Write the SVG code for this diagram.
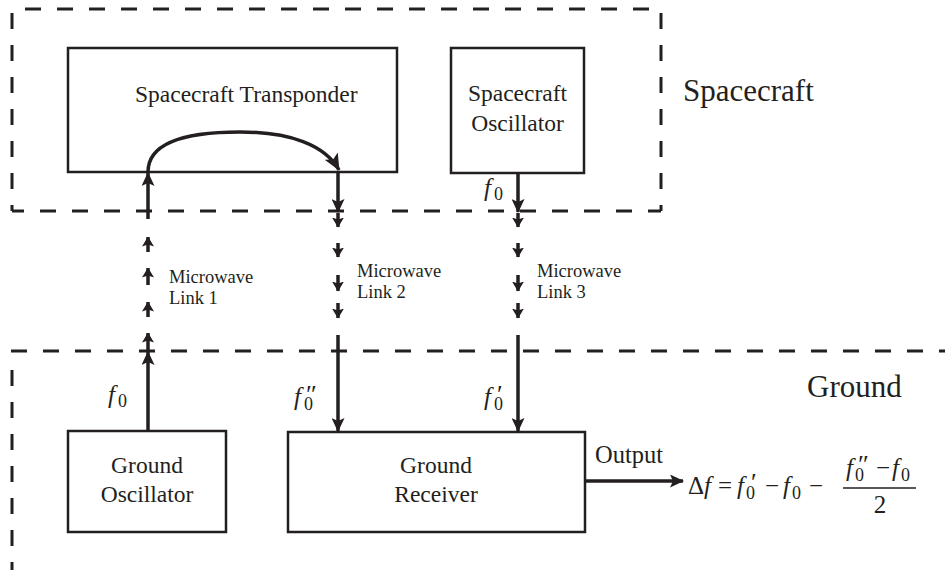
<svg xmlns="http://www.w3.org/2000/svg" width="945" height="570" viewBox="0 0 945 570">
<style>
.box{fill:none;stroke:#231f20;stroke-width:2.5}
.dash{fill:none;stroke:#231f20;stroke-width:3;stroke-dasharray:16 16}
.arr{fill:none;stroke:#231f20;stroke-width:3.5}
.lbl{font-family:'Liberation Serif','Times New Roman',serif;fill:#231f20;text-anchor:middle;font-size:23.5px}
.mw{font-family:'Liberation Serif','Times New Roman',serif;fill:#231f20;font-size:18.5px}
.big{font-family:'Liberation Serif','Times New Roman',serif;fill:#231f20;font-size:31px}
.m{font-family:'Liberation Serif','Times New Roman',serif;fill:#231f20;font-size:25px}
.mi{font-family:'Liberation Serif','Times New Roman',serif;fill:#231f20;font-size:25px;font-style:italic}
.sub{font-family:'Liberation Serif','Times New Roman',serif;fill:#231f20;font-size:18px}
.pr{font-family:'Liberation Serif','Times New Roman',serif;fill:#231f20;font-size:26px}
</style>
<defs>
<marker id="bh" viewBox="0 0 14 13" refX="13" refY="6.5" markerWidth="14" markerHeight="13" markerUnits="userSpaceOnUse" orient="auto">
<path d="M0,0 L14,6.5 L0,13 L3,6.5 z" fill="#231f20"/>
</marker>
<marker id="sh" viewBox="0 0 10 12" refX="9.5" refY="6" markerWidth="10" markerHeight="12" markerUnits="userSpaceOnUse" orient="auto">
<path d="M0,0 L10,6 L0,12 L2,6 z" fill="#231f20"/>
</marker>
<marker id="ch" viewBox="0 0 17 15" refX="16" refY="7.5" markerWidth="17" markerHeight="15" markerUnits="userSpaceOnUse" orient="auto">
<path d="M0,0 L17,7.5 L0,15 L4,7.5 z" fill="#231f20"/>
</marker>
</defs>

<g id="regions">
<line class="dash" x1="25" y1="9" x2="661" y2="9"/>
<line class="dash" x1="12" y1="13" x2="12" y2="211"/>
<line class="dash" x1="661" y1="13" x2="661" y2="211"/>
<line class="dash" x1="12" y1="211" x2="661" y2="211" style="stroke-dashoffset:4"/>
<line class="dash" x1="11" y1="351" x2="945" y2="351"/>
<line class="dash" x1="12" y1="370" x2="12" y2="570"/>
<text class="big" x="683" y="101">Spacecraft</text>
<text class="big" x="807" y="397">Ground</text>
</g>

<g id="transponder">
<rect class="box" x="68" y="48" width="329" height="124"/>
<text class="lbl" x="135" y="102" style="text-anchor:start">Spacecraft Transponder</text>
</g>
<g id="sc-oscillator">
<rect class="box" x="451" y="48" width="133" height="125"/>
<text class="lbl" x="517.5" y="101">Spacecraft</text>
<text class="lbl" x="517.5" y="131">Oscillator</text>
</g>
<g id="ground-oscillator">
<rect class="box" x="68" y="431" width="158" height="101"/>
<text class="lbl" x="147" y="473">Ground</text>
<text class="lbl" x="147" y="502">Oscillator</text>
</g>
<g id="ground-receiver">
<rect class="box" x="288" y="432" width="297" height="100"/>
<text class="lbl" x="436" y="473">Ground</text>
<text class="lbl" x="436" y="502">Receiver</text>
</g>

<g id="connectors">
<!-- link 1 (up) -->
<line class="arr" x1="148" y1="431" x2="148" y2="352" marker-end="url(#bh)"/>
<line class="arr" x1="148" y1="350" x2="148" y2="333" marker-end="url(#sh)"/>
<line class="arr" x1="148" y1="317" x2="148" y2="302" marker-end="url(#sh)"/>
<line class="arr" x1="148" y1="285" x2="148" y2="268" marker-end="url(#sh)"/>
<line class="arr" x1="148" y1="252" x2="148" y2="237" marker-end="url(#sh)"/>
<line class="arr" x1="148" y1="219" x2="148" y2="173" marker-end="url(#bh)"/>
<!-- transponder loop -->
<path class="arr" d="M148,172 C148,145 180,132 240,132 C290,132 325,145 339,170" marker-end="url(#ch)"/>
<!-- link 2 (down) -->
<line class="arr" x1="338" y1="172" x2="338" y2="212" marker-end="url(#bh)"/>
<line class="arr" x1="338" y1="213" x2="338" y2="227" marker-end="url(#sh)"/>
<line class="arr" x1="338" y1="243" x2="338" y2="257" marker-end="url(#sh)"/>
<line class="arr" x1="338" y1="275" x2="338" y2="291" marker-end="url(#sh)"/>
<line class="arr" x1="338" y1="303" x2="338" y2="318" marker-end="url(#sh)"/>
<line class="arr" x1="338" y1="335" x2="338" y2="431" marker-end="url(#bh)"/>
<!-- link 3 (down) -->
<line class="arr" x1="518" y1="173" x2="518" y2="212" marker-end="url(#bh)"/>
<line class="arr" x1="518" y1="213" x2="518" y2="227" marker-end="url(#sh)"/>
<line class="arr" x1="518" y1="243" x2="518" y2="257" marker-end="url(#sh)"/>
<line class="arr" x1="518" y1="275" x2="518" y2="291" marker-end="url(#sh)"/>
<line class="arr" x1="518" y1="303" x2="518" y2="318" marker-end="url(#sh)"/>
<line class="arr" x1="518" y1="335" x2="518" y2="431" marker-end="url(#bh)"/>
<!-- output -->
<line class="arr" x1="585" y1="481" x2="683" y2="481" marker-end="url(#bh)"/>
</g>

<g id="labels">
<text class="mw" x="169" y="283">Microwave</text>
<text class="mw" x="169" y="304">Link 1</text>
<text class="mw" x="357" y="277">Microwave</text>
<text class="mw" x="357" y="298">Link 2</text>
<text class="mw" x="537" y="277">Microwave</text>
<text class="mw" x="537" y="298">Link 3</text>
<text class="mi" x="484" y="196">f</text><text class="sub" x="494" y="200">0</text>
<text class="mi" x="108" y="403">f</text><text class="sub" x="118" y="407">0</text>
<text class="mi" x="294" y="405">f</text><text class="sub" x="304" y="410">0</text><text class="pr" x="306" y="403">″</text>
<text class="mi" x="484" y="405">f</text><text class="sub" x="494" y="410">0</text><text class="pr" x="497" y="403">′</text>
<text class="lbl" x="595" y="463" style="text-anchor:start;font-size:24.5px">Output</text>
</g>

<g id="formula">
<text class="m" x="688" y="494">Δ</text>
<text class="mi" x="704" y="494">f</text>
<text class="m" x="718" y="494">=</text>
<text class="mi" x="737" y="494">f</text><text class="sub" x="746" y="499">0</text><text class="pr" x="751" y="491">′</text>
<text class="m" x="765" y="494">−</text>
<text class="mi" x="783" y="494">f</text><text class="sub" x="792" y="499">0</text>
<text class="m" x="809" y="494">−</text>
<text class="mi" x="846" y="476">f</text><text class="sub" x="855" y="481">0</text><text class="pr" x="858" y="473">″</text>
<text class="m" x="876" y="476">−</text>
<text class="mi" x="892" y="476">f</text><text class="sub" x="901" y="481">0</text>
<line x1="843" y1="488" x2="916" y2="488" stroke="#231f20" stroke-width="1.3"/>
<text class="m" x="880" y="513" text-anchor="middle">2</text>
</g>
</svg>
